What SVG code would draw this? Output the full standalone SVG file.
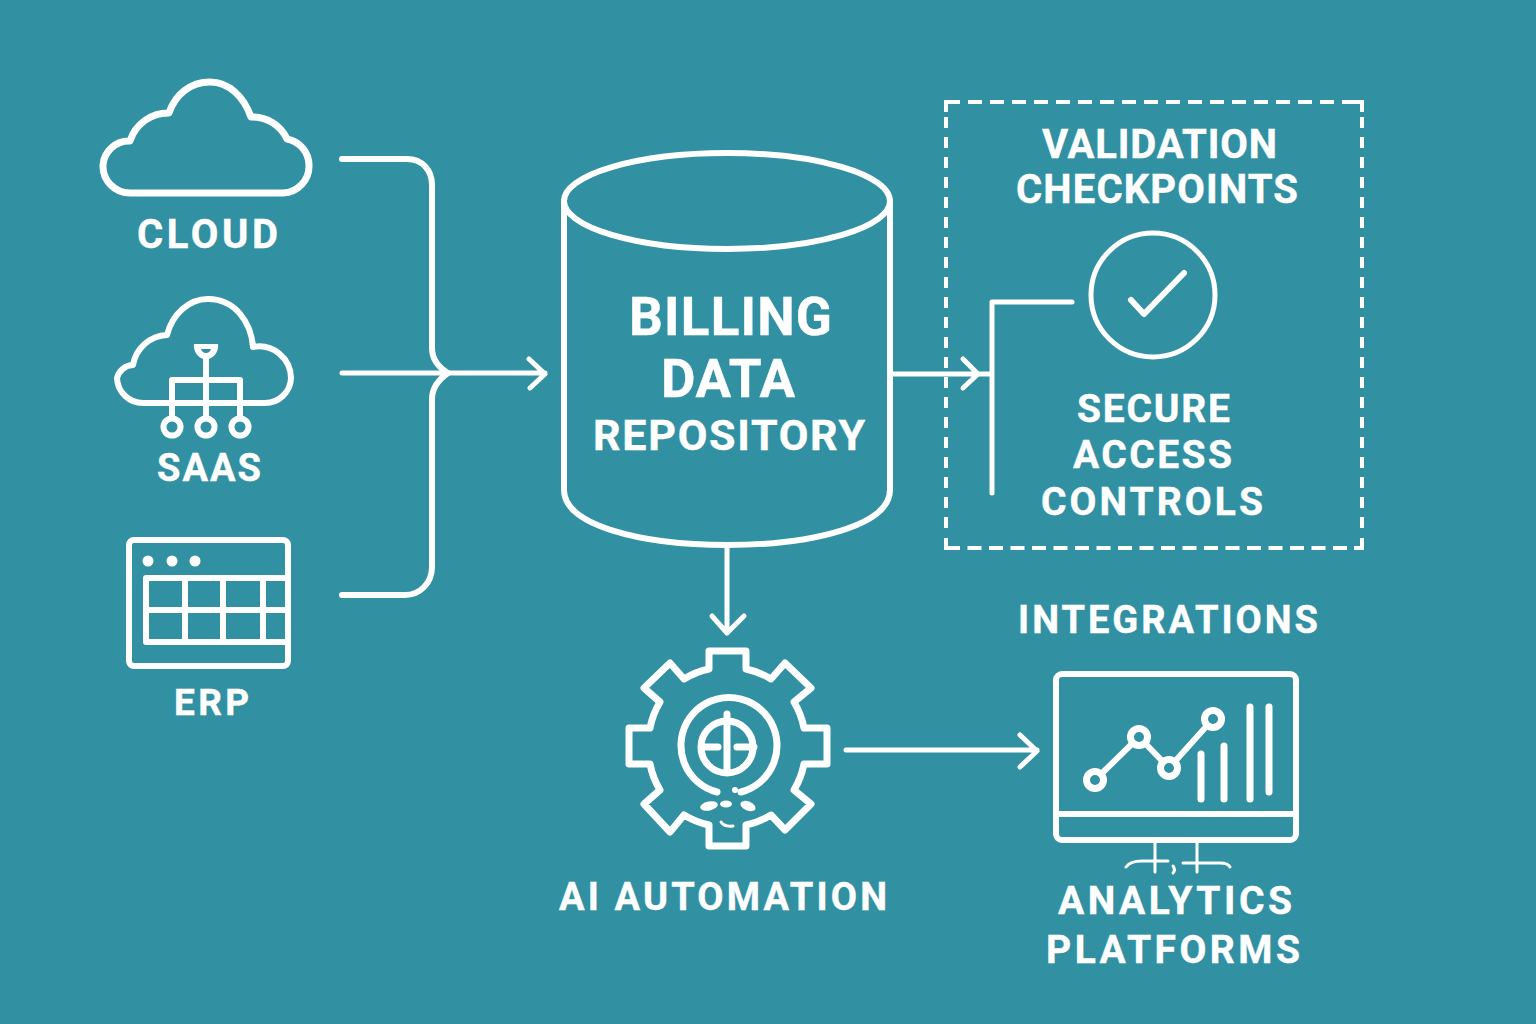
<svg xmlns="http://www.w3.org/2000/svg" width="1536" height="1024" viewBox="0 0 1536 1024">
<style>
.l{fill:none;stroke:#fff;stroke-width:6;stroke-linecap:round;stroke-linejoin:round}
.m{stroke-width:5}
.g{stroke-width:7}
.t{font-family:Roboto,"Noto Sans","Liberation Sans",sans-serif;font-weight:700;fill:#fff;stroke:#fff;stroke-width:.4}
.f{fill:#fff;stroke:none}
.d{fill:none;stroke:#fff;stroke-width:4}
</style>
<rect width="1536" height="1024" fill="#3191a2"/>
<g id="connectors">
<path class="l" d="M342,159H407C422,159 432,170 432,185V348C432,358 438,367 448,373C438,380 432,388 432,399V567C432,583 420,595 405,595H342"/>
<path class="l m" d="M342,373H545M529,359L545,374L530,388"/>
<path class="l m" d="M893,374H990M963,359L978,374L963,388"/>
<path class="l m" d="M727,548V633M712,616L727,633L744,616"/>
<path class="l m" d="M846,750H1037M1020,735L1037,751L1020,767"/>
<path class="l m" d="M1072,302H992V493"/>
</g>
<g id="cloud">
<path class="l g" d="M130,193H283A27,27 0 0 0 309,165A27,27 0 0 0 287,139A38,38 0 0 0 251,117C244,97 229,82 210,82C190,82 175,95 169,113A40,40 0 0 0 130,141A26,26 0 0 0 103,165A27,27 0 0 0 130,193Z"/>
<text class="t" x="137" y="248" font-size="40" textLength="141">CLOUD</text>
</g>
<g id="saas">
<path class="l" d="M143,403A26,26 0 0 1 117,378A17,17 0 0 1 133,365A36,36 0 0 1 167,335C172,315 188,299 208,299C235,299 251,322 253,347A32,32 0 0 1 291,378A26,26 0 0 1 265,403Z"/>
<path class="l" d="M172,418V380H240V418M206,358V418"/>
<path class="f" d="M194,344H218C219,352 214,358 206,360C198,358 193,352 194,344Z"/>
<path fill="#3191a2" d="M201,349H211C210,352 208,353 206,353C204,353 202,352 201,349Z"/>
<circle class="l" cx="172" cy="427" r="8.5"/><circle class="l" cx="206" cy="427" r="8.5"/><circle class="l" cx="240" cy="427" r="8.5"/>
<text class="t" x="157" y="481" font-size="38" textLength="104">SAAS</text>
</g>
<g id="erp">
<rect class="l" x="129" y="540" width="159" height="126" rx="5"/>
<circle class="f" cx="148" cy="561" r="5.5"/><circle class="f" cx="172" cy="561" r="5.5"/><circle class="f" cx="195" cy="561" r="5.5"/>
<path class="l" style="stroke-linecap:butt" d="M286,578H146V642H286M146,610H286M185,578V642M223,578V642M263,578V642"/>
<text class="t" x="174" y="715" font-size="37" textLength="75">ERP</text>
</g>
<g id="repository">
<ellipse class="l" cx="727" cy="201" rx="163" ry="48"/>
<path class="l" d="M564,201V490C564,525 640,545 727,545C814,545 890,525 890,490V201"/>
<text class="t" x="629" y="335" font-size="53" textLength="203">BILLING</text>
<text class="t" x="661" y="397" font-size="53" textLength="134">DATA</text>
<text class="t" x="593" y="450" font-size="43" textLength="272">REPOSITORY</text>
</g>
<g id="validation">
<g class="d">
<path stroke-dasharray="14 8" d="M946,102H1362"/>
<path stroke-dasharray="14 7.5" d="M946,548H1362"/>
<path stroke-dasharray="11 9" d="M946,117V530"/>
<path stroke-dasharray="11 9" d="M1362,117V530"/>
<path d="M946,112V102H954M1354,102H1362V112M946,538V548H954M1354,548H1362V538"/>
</g>
<text class="t" x="1042" y="158" font-size="40" textLength="235">VALIDATION</text>
<text class="t" x="1016" y="203" font-size="40" textLength="282">CHECKPOINTS</text>
<circle class="l m" cx="1153" cy="295" r="62"/>
<path class="l" d="M1131,300L1144,314L1184,273"/>
<text class="t" x="1077" y="422" font-size="39" textLength="153">SECURE</text>
<text class="t" x="1073" y="468" font-size="39" textLength="159">ACCESS</text>
<text class="t" x="1041" y="515" font-size="39" textLength="222">CONTROLS</text>
</g>
<g id="integrations"><text class="t" x="1018" y="633" font-size="38" textLength="300">INTEGRATIONS</text></g>
<g id="ai-automation">
<path class="l g" d="M709,651H746V669A80,80 0 0 1 771,679L785,663L811,688L794,702A80,80 0 0 1 804,728H827V764H804A80,80 0 0 1 794,790L811,804L785,830L771,815A80,80 0 0 1 746,825V846H709V825A80,80 0 0 1 684,815L670,832L644,804L660,790A80,80 0 0 1 650,764H629V728H650A80,80 0 0 1 660,702L644,688L670,663L684,679A80,80 0 0 1 709,669Z"/>
<path class="l g" d="M717,792A48,48 0 1 1 741,792"/>
<circle class="l g" cx="727" cy="747" r="26"/>
<path class="l g" d="M727,714V772M702,747H718M737,747H754"/>
<circle class="f" cx="735" cy="790" r="3"/>
<ellipse class="f" cx="709" cy="806" rx="9" ry="4.5" transform="rotate(-12 709 806)"/>
<ellipse class="f" cx="726" cy="804" rx="6" ry="3.5"/>
<ellipse class="f" cx="748" cy="806" rx="8" ry="4.5" transform="rotate(22 748 806)"/>
<path class="l" style="stroke-width:3" d="M721,822Q724,827 733,826"/>
<text class="t" x="559" y="910" font-size="38" textLength="328">AI AUTOMATION</text>
</g>
<g id="analytics">
<rect class="l" x="1056" y="674" width="240" height="166" rx="6"/>
<path class="l" style="stroke-linecap:butt" d="M1056,814H1296"/>
<path class="l" d="M1095,780L1139,737L1169,768L1213,719"/>
<g fill="#3191a2" stroke="#fff" stroke-width="7">
<circle cx="1095" cy="780" r="8.5"/><circle cx="1139" cy="737" r="8.5"/><circle cx="1169" cy="768" r="8.5"/><circle cx="1213" cy="719" r="8.5"/>
</g>
<path class="l g" d="M1201,754V799M1224,746V799M1250,707V799M1269,707V792"/>
<path class="l" style="stroke-width:3" d="M1155,843V872M1197,843V872M1126,867Q1130,861 1142,861H1168M1183,863H1220Q1228,863 1230,867M1173,866Q1176,870 1173,873"/>
<text class="t" x="1058" y="914" font-size="39" textLength="234">ANALYTICS</text>
<text class="t" x="1046" y="963" font-size="39" textLength="254">PLATFORMS</text>
</g>
</svg>
